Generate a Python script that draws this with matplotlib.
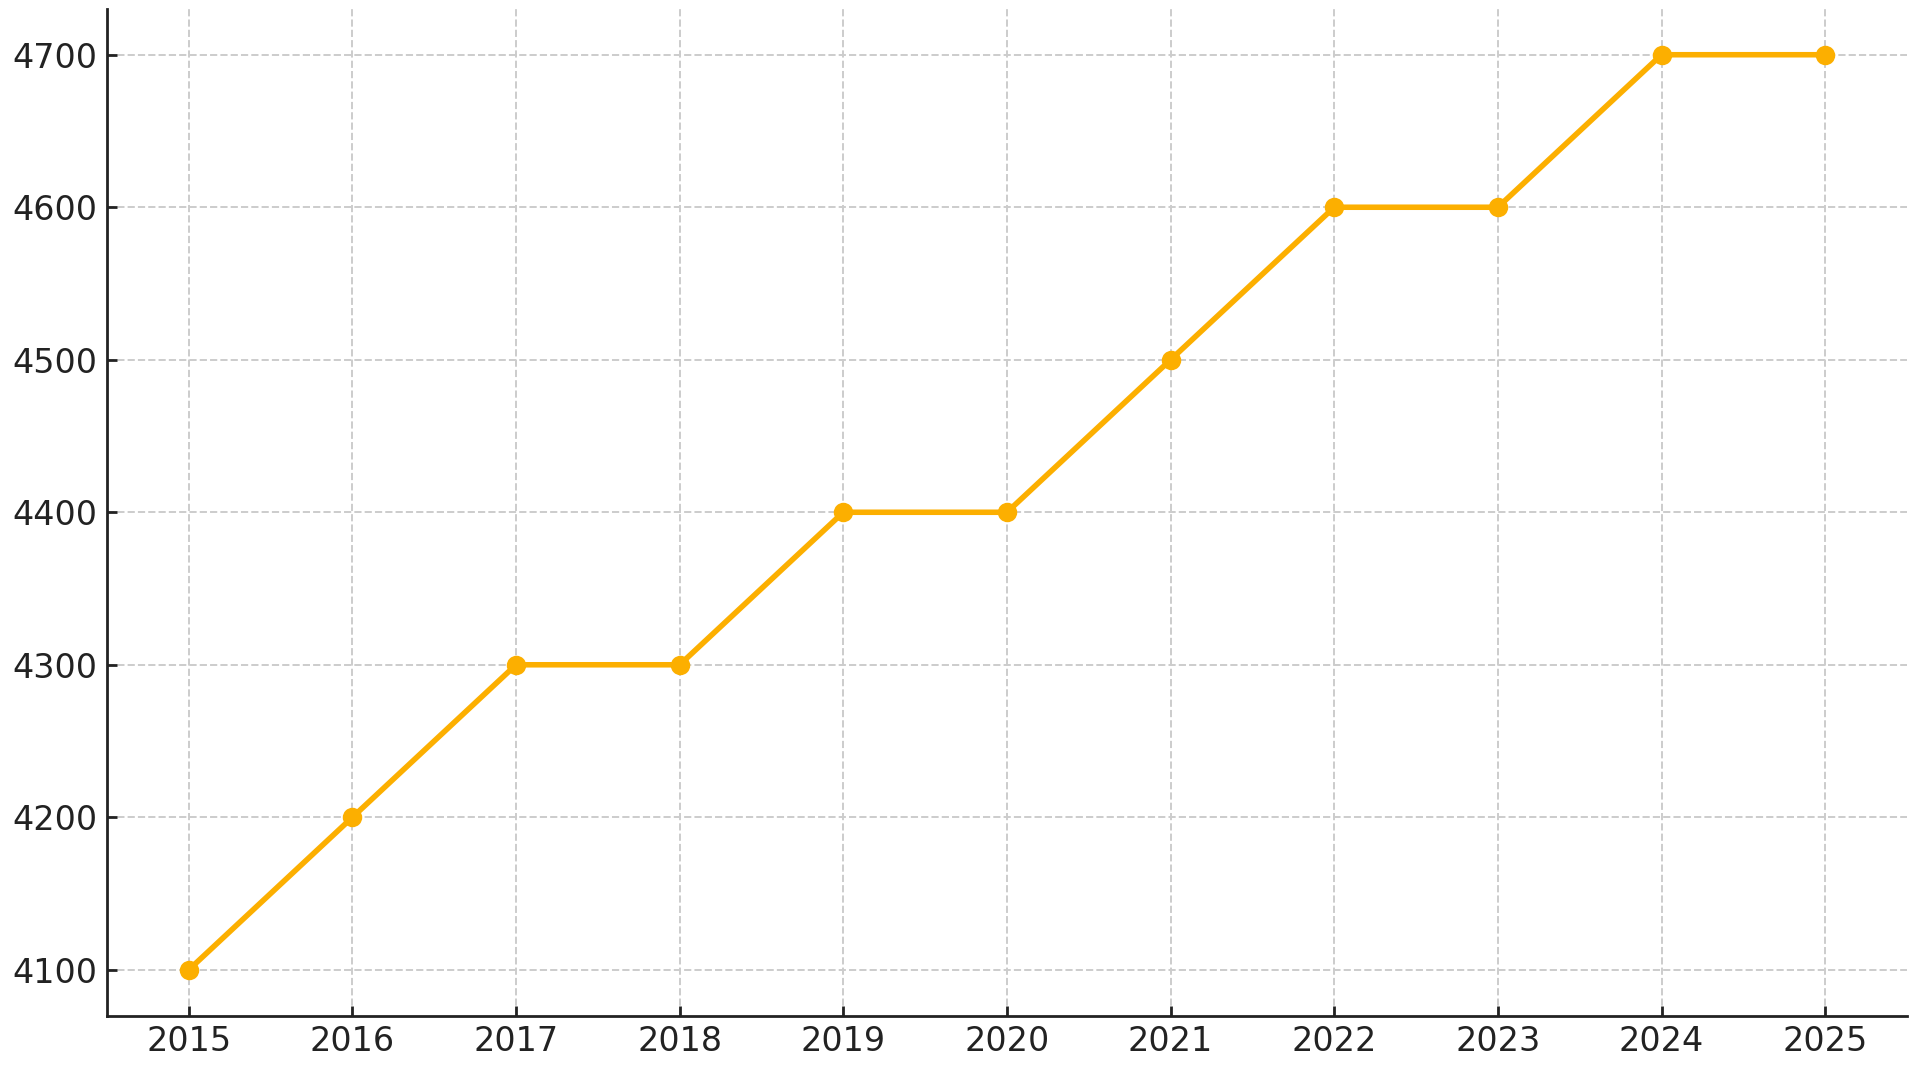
import matplotlib
matplotlib.use("Agg")
import matplotlib.pyplot as plt

years = [2015, 2016, 2017, 2018, 2019, 2020, 2021, 2022, 2023, 2024, 2025]
values = [4100, 4200, 4300, 4300, 4400, 4400, 4500, 4600, 4600, 4700, 4700]

fig, ax = plt.subplots(figsize=(9.635, 5.345), dpi=200)
fig.subplots_adjust(left=0.0555, right=0.9896, bottom=0.05, top=0.9916)

ax.plot(years, values, color='#FCAF00', linewidth=2, marker='o', markersize=6, zorder=3)

ax.set_xticks(years)
ax.set_yticks([4100, 4200, 4300, 4400, 4500, 4600, 4700])
ax.grid(True, linestyle='--', color='#cccccc', linewidth=0.7)
ax.set_axisbelow(True)

for side in ['top', 'right']:
    ax.spines[side].set_visible(False)
for side in ['left', 'bottom']:
    ax.spines[side].set_color('#222222')
    ax.spines[side].set_linewidth(1.0)

ax.tick_params(direction='in', length=3.5, width=1.0, colors='#222222', labelsize=12)

fig.savefig('out.png', dpi=200)
